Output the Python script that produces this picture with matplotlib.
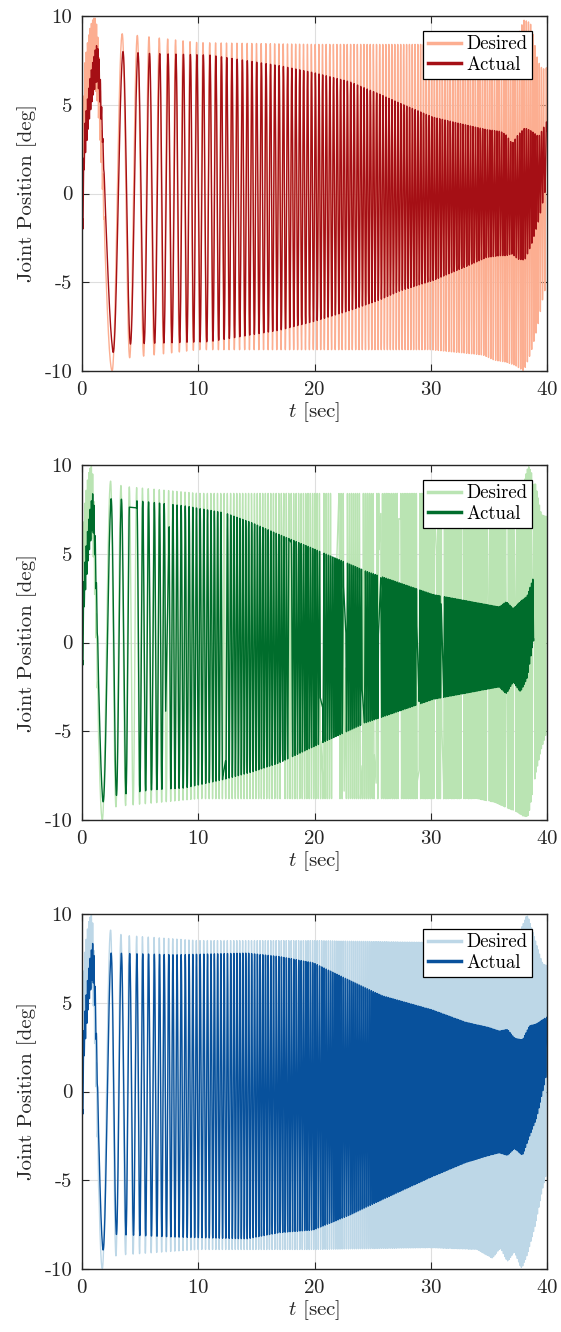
import numpy as np
import matplotlib
matplotlib.use("Agg")
import matplotlib.pyplot as plt

# ---------------- data ----------------
T_END = 40.0
FS = 400  # samples per second

# cycle count of the sweep at read peak/trough times (red joint)
red_phase_t = [0, 0.2, 1.1, 2.6, 3.46, 4.1, 4.76, 5.3, 5.76, 6.65, 7.37, 8.05, 8.7, 9.3, 9.86,
               10.4, 11.0, 12, 14, 16, 18, 20, 22, 24, 26, 28, 30, 32, 34, 36, 38, 40]
red_phase_c = [0, 0.12, 0.25, 0.75, 1.25, 1.75, 2.25, 2.75, 3.25, 4.25, 5.25, 6.25, 7.25, 8.25,
               9.25, 10.25, 11.25, 13.29, 17.75, 22.70, 28.13, 34.05, 40.45, 47.33, 54.70, 62.55,
               70.89, 79.71, 89.01, 98.80, 109.07, 119.83]
# cycle count of the sweep (green and blue joints)
gb_phase_t = [0, 0.15, 0.8, 1.75, 2.46, 2.92, 3.35, 3.75, 4.07, 4.4, 4.7, 5.2, 5.7, 6.2, 6.65,
              7.05, 7.45, 9, 11, 13, 15, 17, 19, 21, 23, 25, 27, 29, 31, 33, 35, 37, 39, 40]
gb_phase_c = [0, 0.12, 0.25, 0.75, 1.25, 1.75, 2.25, 2.75, 3.25, 3.75, 4.25, 5.25, 6.25, 7.25,
              8.25, 9.25, 10.25, 14.62, 20.93, 28.02, 35.90, 44.55, 53.98, 64.19, 75.17, 86.94,
              99.49, 112.82, 126.92, 141.81, 157.47, 173.91, 191.14, 200.04]

# red joint envelopes
red_des_t = [0, 1.2, 2.0, 2.6, 3.5, 10, 20, 30, 33, 34.5, 35.5, 36.5, 37.3, 38.0, 38.6, 39.2, 39.6, 40]
red_des_up = [7.9, 7.9, 9.0, 9.0, 9.0, 8.5, 8.4, 8.4, 8.3, 8.2, 8.3, 8.1, 8.5, 9.8, 9.6, 7.5, 7.0, 7.1]
red_des_lo = [-10, -10, -10, -10, -9.3, -8.8, -8.8, -8.8, -9.0, -9.1, -9.4, -9.5, -9.7, -10.0, -9.0,
              -7.5, -6.0, -5.0]
red_act_t = [0, 1.2, 2.6, 3.5, 5.5, 11, 17, 20, 23, 25.6, 27.3, 30.2, 33.1, 34.8, 36.0, 36.5, 37.0,
             37.5, 38.1, 38.7, 39.3, 40]
red_act_up = [7.3, 7.3, 8.0, 8.0, 7.9, 7.8, 7.2, 6.8, 6.3, 5.6, 5.1, 4.3, 3.85, 3.6, 3.5, 3.3, 2.8,
              3.3, 3.7, 3.5, 3.2, 4.1]
red_act_lo = [-9.0, -9.0, -9.0, -8.5, -8.45, -8.35, -7.7, -7.2, -6.6, -6.0, -5.5, -4.9, -4.1, -3.6,
              -3.5, -3.5, -3.4, -3.7, -3.75, -2.8, -1.5, 0.6]

# green joint envelopes
grn_des_t = [0, 0.8, 1.3, 1.75, 2.5, 3.5, 10, 20, 30, 34, 35.5, 36.5, 37.3, 38.0, 38.4, 39.0, 39.5, 40]
grn_des_up = [7.9, 7.9, 9.0, 9.0, 9.1, 8.8, 8.4, 8.4, 8.4, 8.3, 8.4, 8.2, 8.3, 9.0, 10.0, 9.0, 7.2, 7.1]
grn_des_lo = [-10, -10, -10, -10, -9.3, -9.2, -8.8, -8.8, -8.8, -8.8, -9.0, -9.3, -9.5, -9.8, -9.8,
              -7.5, -6.0, -5.0]
grn_act_t = [0, 0.8, 1.75, 3, 6, 8.8, 12.3, 14.6, 16.9, 19.5, 24.5, 30.2, 35.9, 36.5, 37.1, 37.7,
             38.3, 38.85]
grn_act_up = [7.3, 7.3, 8.1, 8.1, 7.9, 7.7, 7.3, 6.75, 6.1, 5.4, 4.0, 2.7, 2.0, 2.3, 1.9, 2.3, 2.6, 3.7]
grn_act_lo = [-9.0, -9.0, -9.0, -8.6, -8.3, -8.2, -7.7, -7.3, -6.8, -6.0, -4.5, -3.2, -2.5, -2.9,
              -2.2, -2.8, -2.0, 0.2]
grn_act_end = 38.85
# missing-sample intervals in the green recordings [sec]
grn_des_gaps = [(17.2, 17.35), (20.55, 20.7), (21.5, 22.1), (22.55, 22.7), (23.95, 24.1),
                (25.15, 25.3), (25.55, 25.7), (27.25, 27.4), (28.85, 29.0), (30.35, 30.5),
                (30.95, 31.1), (32.65, 32.8), (34.85, 35.0), (36.45, 36.6), (37.15, 37.3),
                (38.75, 38.9)]
grn_act_gaps = [(4.07, 4.7), (7.2, 7.5), (12.1, 12.35), (17.8, 18.0), (20.5, 20.7), (22.5, 22.7),
                (24.1, 24.3), (25.5, 25.7), (28.8, 29.0), (30.9, 31.1)]

# blue joint envelopes
blu_des_t = [0, 0.8, 1.3, 1.75, 2.5, 3.5, 10, 20, 30, 34, 35.3, 36.0, 36.6, 37.2, 37.8, 38.3, 39.0,
             39.6, 40]
blu_des_up = [7.9, 7.9, 9.0, 9.0, 9.1, 8.8, 8.5, 8.5, 8.4, 8.2, 8.2, 8.3, 8.0, 8.3, 9.2, 10.0, 8.5,
              7.2, 7.1]
blu_des_lo = [-10, -10, -10, -10, -9.3, -9.2, -8.9, -8.9, -8.8, -8.9, -9.4, -8.8, -9.6, -9.0, -10.0,
              -9.2, -7.5, -5.5, -4.5]
blu_act_t = [0, 0.8, 1.75, 2.7, 8.0, 14.2, 17.0, 19.9, 22.9, 25.8, 30.1, 33.0, 35.0, 35.9, 36.6,
             37.2, 37.9, 38.5, 39.1, 40]
blu_act_up = [7.3, 7.3, 7.8, 7.8, 7.7, 7.8, 7.6, 7.25, 6.3, 5.4, 4.6, 3.9, 3.6, 3.4, 3.5, 3.0, 2.9,
              3.7, 3.8, 4.2]
blu_act_lo = [-9.0, -9.0, -9.0, -8.05, -8.2, -8.3, -7.95, -7.8, -7.0, -6.1, -4.8, -4.0, -3.6, -3.45,
              -3.6, -3.2, -3.6, -2.5, -1.5, 1.1]

# fast ripple visible during the first second
red_fast_t = [0, 1.5, 2.0]
gb_fast_t = [0, 1.1, 1.5]
fast_des_amp = [2.0, 2.0, 0.0]
fast_act_amp = [1.0, 1.0, 0.0]
FAST_HZ = 9.0
ACT_LAG = 0.05  # cycles

colors = {
    "red": ("#FCAE91", "#A50F15"),
    "green": ("#BAE4B3", "#006D2C"),
    "blue": ("#BDD7E7", "#08519C"),
}

x_ticks = [0, 10, 20, 30, 40]
y_ticks = [-10, -5, 0, 5, 10]
y_ticklabels = ["-10", "-5", "0", "5", "10"]

# ---------------- build series ----------------
t = np.linspace(0, T_END, int(T_END * FS) + 1)


def smooth(v, n):
    pad = np.concatenate([np.full(n, v[0]), v, np.full(n, v[-1])])
    k = np.ones(2 * n + 1) / (2 * n + 1)
    return np.convolve(pad, k, mode="same")[n:-n]


def series(phase_t, phase_c, env_t, up, lo, fast_t, fast_a, lag=0.0):
    cyc = np.interp(t, phase_t, phase_c)
    cyc = np.where(t > 8, smooth(cyc, 120), cyc) - lag
    U = smooth(np.interp(t, env_t, up), 40)
    L = smooth(np.interp(t, env_t, lo), 40)
    mid = (U + L) / 2
    half = (U - L) / 2
    fast = np.interp(t, fast_t, fast_a) * np.sin(2 * np.pi * FAST_HZ * t)
    return mid + half * np.sin(2 * np.pi * cyc) + fast


def drop(tt, yy, gaps, end=None):
    keep = np.ones_like(tt, dtype=bool)
    for a, b in gaps:
        keep &= ~((tt > a) & (tt < b))
    if end is not None:
        keep &= tt <= end
    return tt[keep], yy[keep]


panels = []
d = series(red_phase_t, red_phase_c, red_des_t, red_des_up, red_des_lo, red_fast_t, fast_des_amp)
a = series(red_phase_t, red_phase_c, red_act_t, red_act_up, red_act_lo, red_fast_t, fast_act_amp, ACT_LAG)
panels.append(("red", (t, d), (t, a)))
d = series(gb_phase_t, gb_phase_c, grn_des_t, grn_des_up, grn_des_lo, gb_fast_t, fast_des_amp)
a = series(gb_phase_t, gb_phase_c, grn_act_t, grn_act_up, grn_act_lo, gb_fast_t, fast_act_amp, ACT_LAG)
panels.append(("green", drop(t, d, grn_des_gaps), drop(t, a, grn_act_gaps, grn_act_end)))
d = series(gb_phase_t, gb_phase_c, blu_des_t, blu_des_up, blu_des_lo, gb_fast_t, fast_des_amp)
a = series(gb_phase_t, gb_phase_c, blu_act_t, blu_act_up, blu_act_lo, gb_fast_t, fast_act_amp, ACT_LAG)
panels.append(("blue", (t, d), (t, a)))

# ---------------- draw ----------------
plt.rcParams["font.family"] = ["cmr10", "DejaVu Serif"]
plt.rcParams["mathtext.fontset"] = "cm"
plt.rcParams["axes.formatter.use_mathtext"] = True

W, H = 561, 1332
fig = plt.figure(figsize=(W / 100, H / 100), dpi=100)
axc = "#262626"
bottoms_px = [371, 820, 1269]
for (name, (td, yd), (ta, ya)), bpx in zip(panels, bottoms_px):
    ax = fig.add_axes([82 / W, 1 - bpx / H, 465 / W, 355 / H])
    cd, ca = colors[name]
    ax.plot(td, yd, color=cd, lw=1.0, label="Desired")
    ax.plot(ta, ya, color=ca, lw=1.0, label="Actual")
    ax.set_xlim(0, 40)
    ax.set_ylim(-10, 10)
    ax.set_xticks(x_ticks)
    ax.set_yticks(y_ticks)
    ax.set_yticklabels(y_ticklabels)
    ax.grid(True, color="#dedede", lw=0.8)
    ax.set_axisbelow(True)
    ax.tick_params(direction="in", length=5, width=0.8, top=True, right=True,
                   labelsize=15, colors=axc, pad=7)
    for s in ax.spines.values():
        s.set_color(axc)
        s.set_linewidth(1.0)
        s.set_zorder(5)
    ax.set_ylabel("Joint Position [deg]", fontsize=15, color=axc, labelpad=5)
    ax.set_xlabel(r"$t$ [sec]", fontsize=15, color=axc, labelpad=1)
    leg = ax.legend(loc="upper right", bbox_to_anchor=(0.968, 0.959), borderaxespad=0,
                    fontsize=13.5, frameon=True, fancybox=False, framealpha=1,
                    edgecolor="black", handlelength=1.75, handletextpad=0.3,
                    borderpad=0.25, labelspacing=0.15)
    leg.get_frame().set_linewidth(0.9)
    for ln in leg.get_lines():
        ln.set_linewidth(2.5)
    leg.set_zorder(10)

fig.savefig("out.png", dpi=100)
